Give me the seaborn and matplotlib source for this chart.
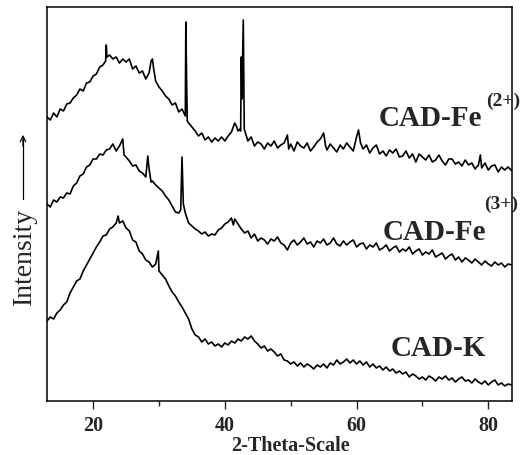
import seaborn as sns
import matplotlib.pyplot as plt
import pandas as pd

# 2-theta positions (deg) and intensities (a.u.)
fe2_theta = [13.0, 13.5, 14.0, 14.5, 15.0, 15.5, 16.0, 16.5, 17.0, 17.5, 18.0, 18.5, 19.0, 19.5,
             20.0, 20.5, 21.0, 21.5, 21.9, 22.0, 22.1, 22.5, 23.0, 23.5, 24.0, 24.5, 25.0, 25.5,
             26.0, 26.5, 27.0, 27.5, 28.0, 28.5, 28.8, 29.0, 29.2, 29.5, 30.0, 30.5, 31.0, 31.5,
             32.0, 32.5, 33.0, 33.5, 34.0, 34.08, 34.2, 34.3, 34.5, 35.0, 35.5, 36.0, 36.5, 37.0,
             37.5, 38.0, 38.5, 39.0, 39.5, 40.0, 40.5, 41.0, 41.5, 41.8, 42.0, 42.3, 42.4, 42.5,
             42.6, 42.8, 42.95,
             43.5, 44.0, 44.5, 45.0, 45.5, 46.0, 46.5, 47.0, 47.5, 48.0, 48.5, 49.0, 49.5, 49.7,
             50.0, 50.5, 51.0, 51.5, 52.0, 52.5, 53.0, 53.5, 54.0, 54.5, 55.0, 55.3, 55.5, 56.0,
             56.5, 57.0, 57.5, 58.0, 58.5, 59.0, 59.5, 60.0, 60.3, 60.6,
             61.0, 61.5, 62.0, 62.5, 63.0, 63.5, 64.0, 64.5, 65.0, 65.5, 66.0, 66.5, 67.0, 67.5,
             68.0, 68.5, 69.0, 69.5, 70.0, 70.5, 71.0, 71.5, 72.0, 72.5, 73.0, 73.5, 74.0, 74.5,
             75.0, 75.5, 76.0, 76.5, 77.0, 77.5, 78.0, 78.5, 78.8, 79.0, 79.5, 80.0, 80.5, 81.0,
             81.5, 82.0, 82.5, 83.0, 83.6]
fe2_int = [284, 281, 288, 284, 292, 290, 297, 298, 303, 306, 312, 310, 318, 319,
           325, 327, 334, 336, 340, 356, 344, 346, 342, 344, 338, 342, 339, 342,
           332, 335, 328, 330, 322, 328, 340, 342, 332, 320, 314, 310, 305, 302,
           296, 298, 289, 292, 285, 379, 319, 280, 278, 274, 270, 265, 268, 261,
           264, 259, 263, 260, 264, 260, 265, 269, 278, 274, 270, 272, 270, 344,
           302, 381, 272,
           260, 264, 255, 259, 257, 252, 258, 255, 260, 253, 256, 258, 266, 252,
           257, 250, 259, 255, 253, 258, 250, 254, 259, 262, 268, 255, 251, 257,
           253, 249, 256, 252, 258, 254, 250, 264, 271, 258,
           252, 256, 248, 253, 256, 247, 250, 245, 251, 248, 252, 244, 245, 250,
           243, 247, 239, 247, 244, 241, 246, 239, 241, 246, 240, 236, 242, 242,
           237, 239, 235, 241, 236, 238, 232, 236, 246, 233, 238, 231, 235, 236,
           229, 234, 231, 234, 230]

fe3_theta = [13.0, 13.5, 14.0, 14.5, 15.0, 15.5, 16.0, 16.5, 17.0, 17.5, 18.0, 18.5, 19.0, 19.5,
             20.0, 20.5, 21.0, 21.5, 22.0, 22.5, 23.0, 23.5, 24.0, 24.5, 24.7, 25.0, 25.5, 26.0,
             26.5, 27.0, 27.5, 28.0, 28.3, 28.5, 28.8, 29.0, 29.5, 30.0, 30.5, 31.0, 31.5, 32.0,
             32.5, 33.0, 33.3, 33.5, 33.7, 34.0, 34.5, 35.0, 35.5, 36.0, 36.5, 37.0, 37.5, 38.0,
             38.5, 39.0, 39.5, 40.0, 40.5, 41.0, 41.3, 41.5, 42.0, 42.5, 43.0, 43.5,
             44.0, 44.5, 45.0, 45.5, 46.0, 46.5, 47.0, 47.5, 48.0, 48.5, 49.0, 49.5, 50.0, 50.5,
             51.0, 51.5, 52.0, 52.5, 53.0, 53.5, 54.0, 54.5, 55.0, 55.5, 56.0, 56.5, 57.0, 57.5,
             58.0, 58.5, 59.0, 59.5, 60.0, 60.5, 61.0, 61.5, 62.0, 62.5, 63.0, 63.5, 64.0, 64.5,
             65.0, 65.5, 66.0, 66.5, 67.0, 67.5, 68.0, 68.5, 69.0, 69.5, 70.0, 70.5, 71.0, 71.5,
             72.0, 72.5, 73.0, 73.5, 74.0, 74.5, 75.0, 75.5, 76.0, 76.5, 77.0, 77.5, 78.0, 78.5,
             79.0, 79.5, 80.0, 80.5, 81.0, 81.5, 82.0, 82.5, 83.0, 83.6]
fe3_int = [197, 194, 201, 199, 204, 203, 208, 207, 215, 218, 225, 227, 234, 236,
           242, 242, 247, 246, 251, 252, 257, 250, 255, 262, 246, 244, 240, 235,
           236, 230, 228, 224, 245, 232, 219, 220, 216, 213, 210, 205, 201, 195,
           189, 188, 191, 244, 197, 188, 178, 175, 172, 170, 167, 169, 165, 167,
           166, 171, 173, 177, 179, 183, 176, 182, 177, 172, 168, 170,
           163, 167, 160, 163, 161, 157, 162, 160, 164, 158, 156, 151, 158, 161,
           156, 159, 163, 157, 159, 154, 160, 158, 162, 156, 158, 163, 157, 155,
           160, 156, 159, 161, 154, 157, 158, 152, 156, 154, 158, 151, 153, 156,
           150, 153, 155, 149, 152, 150, 154, 147, 150, 152, 146, 149, 147, 151,
           144, 146, 148, 142, 145, 147, 141, 144, 139, 143, 141, 138, 142, 139,
           136, 140, 137, 135, 139, 136, 138, 134, 137, 136]

k_theta = [13.0, 13.5, 14.0, 14.5, 15.0, 15.5, 16.0, 16.5, 17.0, 17.5, 18.0, 18.5, 19.0, 19.5,
           20.0, 20.5, 21.0, 21.5, 22.0, 22.5, 23.0, 23.5, 23.8, 24.0, 24.5, 25.0, 25.5, 26.0,
           26.5, 27.0, 27.5, 28.0, 28.5, 29.0, 29.5, 29.9, 30.0, 30.5, 31.0, 31.5, 32.0, 32.5,
           33.0, 33.5, 34.0, 34.5, 35.0, 35.5, 36.0, 36.5, 37.0, 37.5, 38.0, 38.5, 39.0, 39.5,
           40.0, 40.5, 41.0, 41.5, 42.0, 42.5, 43.0, 43.5, 44.0, 44.5,
           45.0, 45.5, 46.0, 46.5, 47.0, 47.5, 48.0, 48.5, 49.0, 49.5, 50.0, 50.5, 51.0, 51.5,
           52.0, 52.5, 53.0, 53.5, 54.0, 54.5, 55.0, 55.5, 56.0, 56.5, 57.0, 57.5, 58.0, 58.5,
           59.0, 59.5, 60.0, 60.5, 61.0, 61.5, 62.0, 62.5, 63.0, 63.5, 64.0, 64.5, 65.0, 65.5,
           66.0, 66.5, 67.0, 67.5, 68.0, 68.5, 69.0, 69.5, 70.0, 70.5, 71.0, 71.5, 72.0, 72.5,
           73.0, 73.5, 74.0, 74.5, 75.0, 75.5, 76.0, 76.5, 77.0, 77.5, 78.0, 78.5, 79.0, 79.5,
           80.0, 80.5, 81.0, 81.5, 82.0, 82.5, 83.0, 83.6]
k_int = [80, 84, 82, 88, 91, 96, 99, 108, 114, 120, 122, 130, 136, 142,
         148, 154, 159, 165, 166, 172, 174, 178, 185, 178, 180, 173, 170, 161,
         159, 150, 147, 141, 139, 134, 137, 150, 130, 126, 122, 115, 109, 105,
         99, 94, 88, 82, 72, 66, 64, 59, 62, 57, 59, 55, 57, 54,
         58, 56, 60, 58, 62, 60, 64, 62, 65, 60,
         57, 53, 55, 50, 52, 49, 45, 47, 41, 40, 37, 39, 35, 38,
         34, 37, 35, 32, 36, 34, 37, 33, 38, 36, 41, 37, 39, 42,
         38, 41, 37, 40, 36, 39, 34, 37, 33, 35, 31, 34, 30, 32,
         28, 30, 27, 29, 24, 27, 25, 22, 24, 21, 25, 23, 20, 24,
         22, 25, 21, 23, 19, 22, 24, 20, 21, 18, 22, 19, 17, 20,
         16, 19, 21, 16, 18, 15, 17, 16]

sns.set_style("ticks")
plt.rcParams['font.family'] = ['Liberation Serif', 'DejaVu Serif']

fig = plt.figure(figsize=(5.24, 4.56), dpi=100)
ax = fig.add_axes([47 / 524, 54 / 456, 465 / 524, 394 / 456])

for th, inten in [(fe2_theta, fe2_int), (fe3_theta, fe3_int), (k_theta, k_int)]:
    df = pd.DataFrame({'theta': th, 'intensity': inten})
    sns.lineplot(data=df, x='theta', y='intensity', ax=ax, color='black',
                 linewidth=1.2, sort=False, estimator=None)

ax.set_xlim(13, 83.6)
ax.set_ylim(0, 394)
ax.set_yticks([])
ax.set_xticks([20, 40, 60, 80])
ax.set_xticks([30, 50, 70], minor=True)
ax.set_xlabel('')
ax.set_ylabel('')
ax.tick_params(axis='x', which='major', direction='out', length=5.8, width=1.0,
               labelsize=14.5, pad=4)
ax.tick_params(axis='x', which='minor', direction='out', length=3.6, width=1.0)
for lab in ax.get_xticklabels():
    lab.set_fontweight('bold')
for sp in ax.spines.values():
    sp.set_linewidth(1.1)
    sp.set_color('black')

def fx(px):
    return px / 524

def fy(py):
    return 1 - py / 456

fig.text(fx(290), fy(446), '2-Theta-Scale', ha='center', va='center',
         fontsize=14.5, fontweight='bold')
fig.text(fx(24), fy(256), 'Intensity', rotation=90, ha='center', va='center', fontsize=20)
fig.add_artist(plt.Line2D([fx(23), fx(23)], [fy(200), fy(140)], color='black', lw=0.9))
ax.annotate('', xy=(fx(23), fy(133)), xytext=(fx(23), fy(150)), xycoords='figure fraction',
            arrowprops=dict(arrowstyle='->', lw=0.9, color='black'))

fig.text(fx(430), fy(118), 'CAD-Fe', ha='center', va='center', fontsize=21, fontweight='bold')
fig.text(fx(503), fy(101), '(2+)', ha='center', va='center', fontsize=14, fontweight='bold')
fig.text(fx(434), fy(233), 'CAD-Fe', ha='center', va='center', fontsize=21, fontweight='bold')
fig.text(fx(501), fy(204), '(3+)', ha='center', va='center', fontsize=14, fontweight='bold')
fig.text(fx(438), fy(349), 'CAD-K', ha='center', va='center', fontsize=21, fontweight='bold')

fig.savefig('out.png', dpi=100)
